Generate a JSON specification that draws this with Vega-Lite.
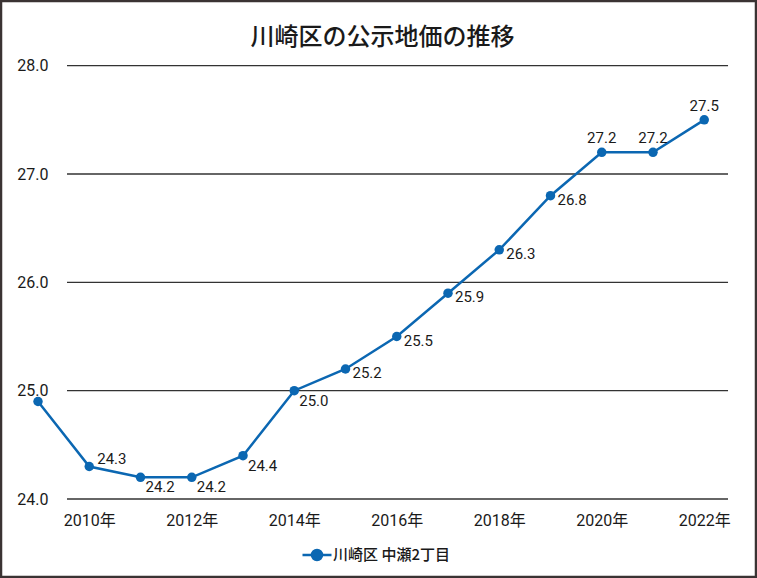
{
  "$schema": "https://vega.github.io/schema/vega-lite/v6.json",
  "width": 755,
  "height": 576,
  "padding": 1,
  "autosize": {"type": "none"},
  "background": "white",
  "config": {
    "view": {"stroke": "#3a3333", "strokeWidth": 2.5, "fill": "white"},
    "font": "Roboto"
  },
  "title": {
    "text": "川崎区の公示地価の推移",
    "font": "Noto Sans CJK JP",
    "fontSize": 24,
    "fontWeight": 500,
    "color": "#1a1a1a",
    "anchor": "middle",
    "baseline": "middle",
    "offset": -61,
    "dx": 4
  },
  "datasets": {
    "grid": [{"g": 24}, {"g": 25}, {"g": 26}, {"g": 27}, {"g": 28}],
    "main": [
      {"year": 2009, "value": 24.9, "series": "川崎区 中瀬2丁目"},
      {"year": 2010, "value": 24.3, "series": "川崎区 中瀬2丁目"},
      {"year": 2011, "value": 24.2, "series": "川崎区 中瀬2丁目"},
      {"year": 2012, "value": 24.2, "series": "川崎区 中瀬2丁目"},
      {"year": 2013, "value": 24.4, "series": "川崎区 中瀬2丁目"},
      {"year": 2014, "value": 25.0, "series": "川崎区 中瀬2丁目"},
      {"year": 2015, "value": 25.2, "series": "川崎区 中瀬2丁目"},
      {"year": 2016, "value": 25.5, "series": "川崎区 中瀬2丁目"},
      {"year": 2017, "value": 25.9, "series": "川崎区 中瀬2丁目"},
      {"year": 2018, "value": 26.3, "series": "川崎区 中瀬2丁目"},
      {"year": 2019, "value": 26.8, "series": "川崎区 中瀬2丁目"},
      {"year": 2020, "value": 27.2, "series": "川崎区 中瀬2丁目"},
      {"year": 2021, "value": 27.2, "series": "川崎区 中瀬2丁目"},
      {"year": 2022, "value": 27.5, "series": "川崎区 中瀬2丁目"}
    ]
  },
  "layer": [
    {
      "data": {"name": "grid"},
      "mark": {"type": "rule", "color": "#333333", "strokeWidth": 1.3},
      "encoding": {
        "y": {"field": "g", "type": "quantitative", "scale": {"domain": [23.28, 28.597], "nice": false, "zero": false},
          "axis": {"title": null, "values": [24, 25, 26, 27, 28], "format": ".1f", "grid": false, "ticks": false, "domain": false, "offset": -47, "labelPadding": 0, "labelFont": "Roboto", "labelFontSize": 16, "labelColor": "#1a1a1a", "labelFlush": false, "labelOverlap": false}},
        "x": {"datum": 2009.566, "type": "quantitative", "scale": {"domain": [2008.278, 2023.0098], "nice": false, "zero": false},
          "axis": {"title": null, "values": [2010, 2012, 2014, 2016, 2018, 2020, 2022], "labelExpr": "datum.value + '年'", "grid": false, "ticks": false, "domain": false, "offset": -65, "labelPadding": 0, "labelFont": "Roboto, Noto Sans CJK JP", "labelFontSize": 16, "labelColor": "#1a1a1a", "labelFlush": false, "labelOverlap": false}},
        "x2": {"datum": 2022.464}
      }
    },
    {
      "data": {"name": "main"},
      "mark": {"type": "line", "strokeWidth": 2.5},
      "encoding": {
        "x": {
          "field": "year", "type": "quantitative",
          "scale": {"domain": [2008.278, 2023.0098], "nice": false, "zero": false},
          "axis": {"title": null, "values": [2010, 2012, 2014, 2016, 2018, 2020, 2022], "labelExpr": "datum.value + '年'", "grid": false, "ticks": false, "domain": false, "offset": -65, "labelPadding": 0, "labelFont": "Roboto, Noto Sans CJK JP", "labelFontSize": 16, "labelColor": "#1a1a1a", "labelFlush": false, "labelOverlap": false}
        },
        "y": {
          "field": "value", "type": "quantitative",
          "scale": {"domain": [23.28, 28.597], "nice": false, "zero": false},
          "axis": {"title": null, "values": [24, 25, 26, 27, 28], "format": ".1f", "grid": false, "ticks": false, "domain": false, "offset": -47, "labelPadding": 0, "labelFont": "Roboto", "labelFontSize": 16, "labelColor": "#1a1a1a", "labelFlush": false, "labelOverlap": false}
        },
        "color": {
          "field": "series", "type": "nominal",
          "scale": {"range": ["#0b67b2"]},
          "legend": {"orient": "none", "legendX": 300, "legendY": 538, "title": null, "symbolType": "M-1,0H1M-0.345,0A0.345,0.345,0,1,1,0.345,0A0.345,0.345,0,1,1,-0.345,0Z", "symbolSize": 841, "symbolStrokeWidth": 2.5, "symbolFillColor": "#0b67b2", "symbolStrokeColor": "#0b67b2", "labelFont": "Noto Sans CJK JP", "labelFontSize": 15, "labelFontWeight": 500, "labelColor": "#1a1a1a", "labelOffset": 0, "padding": 0}
        }
      }
    },
    {
      "data": {"name": "main"},
      "mark": {"type": "point", "filled": true, "size": 90, "opacity": 1},
      "encoding": {
        "x": {"field": "year", "type": "quantitative",
          "axis": {"title": null, "values": [2010, 2012, 2014, 2016, 2018, 2020, 2022], "labelExpr": "datum.value + '年'", "grid": false, "ticks": false, "domain": false, "offset": -65, "labelPadding": 0, "labelFont": "Roboto, Noto Sans CJK JP", "labelFontSize": 16, "labelColor": "#1a1a1a", "labelFlush": false, "labelOverlap": false}},
        "y": {"field": "value", "type": "quantitative",
          "axis": {"title": null, "values": [24, 25, 26, 27, 28], "format": ".1f", "grid": false, "ticks": false, "domain": false, "offset": -47, "labelPadding": 0, "labelFont": "Roboto", "labelFontSize": 16, "labelColor": "#1a1a1a", "labelFlush": false, "labelOverlap": false}},
        "color": {"field": "series", "type": "nominal"}
      }
    },
    {
      "data": {"name": "main"},
      "transform": [{"filter": "datum.year == 2010"}],
      "mark": {"type": "text", "align": "left", "baseline": "middle", "dx": 8, "dy": -8, "fontSize": 15, "font": "Roboto", "color": "#1a1a1a"},
      "encoding": {
        "x": {"field": "year", "type": "quantitative",
          "axis": {"title": null, "values": [2010, 2012, 2014, 2016, 2018, 2020, 2022], "labelExpr": "datum.value + '年'", "grid": false, "ticks": false, "domain": false, "offset": -65, "labelPadding": 0, "labelFont": "Roboto, Noto Sans CJK JP", "labelFontSize": 16, "labelColor": "#1a1a1a", "labelFlush": false, "labelOverlap": false}},
        "y": {"field": "value", "type": "quantitative",
          "axis": {"title": null, "values": [24, 25, 26, 27, 28], "format": ".1f", "grid": false, "ticks": false, "domain": false, "offset": -47, "labelPadding": 0, "labelFont": "Roboto", "labelFontSize": 16, "labelColor": "#1a1a1a", "labelFlush": false, "labelOverlap": false}},
        "text": {"field": "value", "format": ".1f"}
      }
    },
    {
      "data": {"name": "main"},
      "transform": [{"filter": "datum.year >= 2011 && datum.year <= 2014"}],
      "mark": {"type": "text", "align": "left", "baseline": "middle", "dx": 5, "dy": 10, "fontSize": 15, "font": "Roboto", "color": "#1a1a1a"},
      "encoding": {
        "x": {"field": "year", "type": "quantitative",
          "axis": {"title": null, "values": [2010, 2012, 2014, 2016, 2018, 2020, 2022], "labelExpr": "datum.value + '年'", "grid": false, "ticks": false, "domain": false, "offset": -65, "labelPadding": 0, "labelFont": "Roboto, Noto Sans CJK JP", "labelFontSize": 16, "labelColor": "#1a1a1a", "labelFlush": false, "labelOverlap": false}},
        "y": {"field": "value", "type": "quantitative",
          "axis": {"title": null, "values": [24, 25, 26, 27, 28], "format": ".1f", "grid": false, "ticks": false, "domain": false, "offset": -47, "labelPadding": 0, "labelFont": "Roboto", "labelFontSize": 16, "labelColor": "#1a1a1a", "labelFlush": false, "labelOverlap": false}},
        "text": {"field": "value", "format": ".1f"}
      }
    },
    {
      "data": {"name": "main"},
      "transform": [{"filter": "datum.year >= 2015 && datum.year <= 2019"}],
      "mark": {"type": "text", "align": "left", "baseline": "middle", "dx": 7, "dy": 4, "fontSize": 15, "font": "Roboto", "color": "#1a1a1a"},
      "encoding": {
        "x": {"field": "year", "type": "quantitative",
          "axis": {"title": null, "values": [2010, 2012, 2014, 2016, 2018, 2020, 2022], "labelExpr": "datum.value + '年'", "grid": false, "ticks": false, "domain": false, "offset": -65, "labelPadding": 0, "labelFont": "Roboto, Noto Sans CJK JP", "labelFontSize": 16, "labelColor": "#1a1a1a", "labelFlush": false, "labelOverlap": false}},
        "y": {"field": "value", "type": "quantitative",
          "axis": {"title": null, "values": [24, 25, 26, 27, 28], "format": ".1f", "grid": false, "ticks": false, "domain": false, "offset": -47, "labelPadding": 0, "labelFont": "Roboto", "labelFontSize": 16, "labelColor": "#1a1a1a", "labelFlush": false, "labelOverlap": false}},
        "text": {"field": "value", "format": ".1f"}
      }
    },
    {
      "data": {"name": "main"},
      "transform": [{"filter": "datum.year >= 2020"}],
      "mark": {"type": "text", "align": "center", "baseline": "middle", "dy": -14, "fontSize": 15, "font": "Roboto", "color": "#1a1a1a"},
      "encoding": {
        "x": {"field": "year", "type": "quantitative",
          "axis": {"title": null, "values": [2010, 2012, 2014, 2016, 2018, 2020, 2022], "labelExpr": "datum.value + '年'", "grid": false, "ticks": false, "domain": false, "offset": -65, "labelPadding": 0, "labelFont": "Roboto, Noto Sans CJK JP", "labelFontSize": 16, "labelColor": "#1a1a1a", "labelFlush": false, "labelOverlap": false}},
        "y": {"field": "value", "type": "quantitative",
          "axis": {"title": null, "values": [24, 25, 26, 27, 28], "format": ".1f", "grid": false, "ticks": false, "domain": false, "offset": -47, "labelPadding": 0, "labelFont": "Roboto", "labelFontSize": 16, "labelColor": "#1a1a1a", "labelFlush": false, "labelOverlap": false}},
        "text": {"field": "value", "format": ".1f"}
      }
    }
  ]
}
